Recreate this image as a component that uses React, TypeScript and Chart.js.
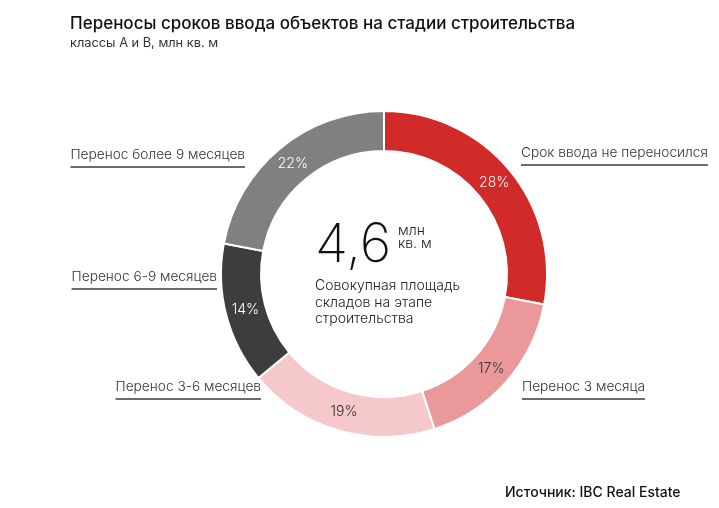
import React, { useEffect, useRef } from "react";
import { Chart, registerables } from "chart.js";

Chart.register(...registerables);

// Shares of warehouse space under construction by delay of commissioning, %
const categories = [
  "Срок ввода не переносился",
  "Перенос 3 месяца",
  "Перенос 3-6 месяцев",
  "Перенос 6-9 месяцев",
  "Перенос более 9 месяцев",
];
const shares = [28, 17, 19, 14, 22];
const sliceColors = ["#d02b29", "#eb989b", "#f5c9cb", "#3d3d3d", "#808080"];
const valueColors = ["#ffffff", "#333333", "#333333", "#ffffff", "#ffffff"];

const totalValue = "4,6";
const totalUnit = ["млн", "кв. м"];
const totalCaption = ["Совокупная площадь", "складов на этапе", "строительства"];

const title = "Переносы сроков ввода объектов на стадии строительства";
const subtitle = "классы А и В, млн кв. м";
const source = "Источник: IBC Real Estate";

// Where each category caption sits, relative to the ring centre
const captionPlacement = [
  { dx: 137, dy: -117, align: "left" },
  { dx: 138, dy: 117, align: "left" },
  { dx: -123, dy: 117, align: "right" },
  { dx: -167, dy: 7, align: "right" },
  { dx: -139, dy: -115, align: "right" },
];

const LABEL_FONT = "Inter, 'Noto Sans', sans-serif";

const ringLabels = {
  id: "ringLabels",
  afterDatasetsDraw(chart: any) {
    const ctx = chart.ctx;
    const meta = chart.getDatasetMeta(0);
    const first = meta.data[0];
    if (!first) return;
    const cx = first.x;
    const cy = first.y;

    ctx.save();
    // percentages inside the ring
    ctx.font = `300 14px ${LABEL_FONT}`;
    ctx.textAlign = "center";
    ctx.textBaseline = "middle";
    meta.data.forEach((arc: any, i: number) => {
      const p = arc.getCenterPoint();
      ctx.fillStyle = valueColors[i];
      ctx.fillText(`${shares[i]}%`, p.x, p.y);
    });

    // category captions with underline
    ctx.font = `300 13.7px ${LABEL_FONT}`;
    ctx.textBaseline = "alphabetic";
    categories.forEach((name, i) => {
      const pl = captionPlacement[i];
      const x = cx + pl.dx;
      const y = cy + pl.dy;
      const w = ctx.measureText(name).width;
      ctx.fillStyle = "#333333";
      ctx.textAlign = pl.align as CanvasTextAlign;
      ctx.fillText(name, x, y);
      const x0 = pl.align === "left" ? x : x - w;
      ctx.strokeStyle = "#3a3a3a";
      ctx.lineWidth = 1.5;
      ctx.beginPath();
      ctx.moveTo(x0, y + 8);
      ctx.lineTo(x0 + w, y + 8);
      ctx.stroke();
    });

    // total in the middle
    const left = cx - 69;
    ctx.textAlign = "left";
    ctx.fillStyle = "#111111";
    ctx.font = `200 54px ${LABEL_FONT}`;
    ctx.fillText(totalValue, left, cy - 12);
    ctx.font = `300 14px ${LABEL_FONT}`;
    ctx.fillStyle = "#222222";
    ctx.fillText(totalUnit[0], cx + 14, cy - 39);
    ctx.fillText(totalUnit[1], cx + 14, cy - 26);
    ctx.font = `300 14px ${LABEL_FONT}`;
    totalCaption.forEach((line, i) => {
      ctx.fillText(line, left, cy + 16 + i * 16.5);
    });
    ctx.restore();
  },
};

export default function App() {
  const canvasRef = useRef<HTMLCanvasElement | null>(null);

  useEffect(() => {
    document.body.style.margin = "0";
    const canvas = canvasRef.current;
    if (!canvas) return;
    const chart = new Chart(canvas, {
      type: "doughnut",
      data: {
        labels: categories,
        datasets: [
          {
            data: shares,
            backgroundColor: sliceColors,
            borderColor: "#ffffff",
            borderWidth: 2,
            hoverOffset: 0,
          },
        ],
      },
      options: {
        responsive: false,
        animation: false,
        devicePixelRatio: 1,
        cutout: 123,
        layout: { padding: { top: 110, bottom: 70, left: 220, right: 171 } },
        plugins: {
          legend: { display: false },
          tooltip: { enabled: false },
          title: { display: false },
        },
      },
      plugins: [ringLabels],
    });
    return () => chart.destroy();
  }, []);

  return (
    <div
      style={{
        position: "relative",
        width: 719,
        height: 508,
        background: "#ffffff",
        overflow: "hidden",
        fontFamily: LABEL_FONT,
      }}
    >
      <canvas
        ref={canvasRef}
        width={719}
        height={508}
        style={{ position: "absolute", left: 0, top: 0, width: 719, height: 508 }}
      />
      <div
        style={{
          position: "absolute",
          left: 70,
          top: 12,
          fontSize: 17,
          fontWeight: 500,
          color: "#111111",
          whiteSpace: "nowrap",
          lineHeight: "22px",
        }}
      >
        {title}
      </div>
      <div
        style={{
          position: "absolute",
          left: 70,
          top: 35,
          fontSize: 12.8,
          fontWeight: 400,
          color: "#333333",
          whiteSpace: "nowrap",
          lineHeight: "16px",
        }}
      >
        {subtitle}
      </div>
      <div
        style={{
          position: "absolute",
          left: 505,
          top: 483,
          fontSize: 14,
          fontWeight: 500,
          color: "#111111",
          whiteSpace: "nowrap",
          lineHeight: "18px",
        }}
      >
        {source}
      </div>
    </div>
  );
}
